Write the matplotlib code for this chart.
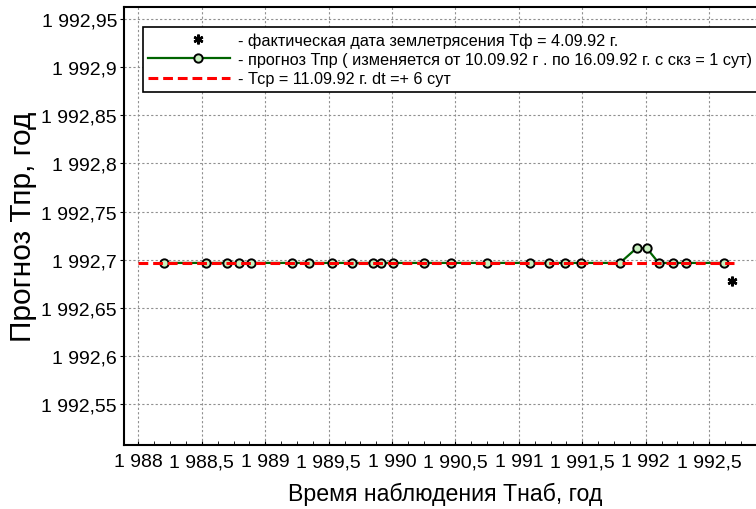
import numpy as np
import matplotlib
matplotlib.use('Agg')
from matplotlib import pyplot as plt
from matplotlib.ticker import MultipleLocator, FuncFormatter

plt.rcParams['font.family'] = ['Liberation Sans', 'DejaVu Sans']

# время наблюдения и прогноз
t_obs = [1988.203, 1988.530, 1988.696, 1988.793, 1988.887, 1989.213, 1989.342,
         1989.526, 1989.686, 1989.847, 1989.915, 1990.009, 1990.254, 1990.462,
         1990.751, 1991.088, 1991.240, 1991.366, 1991.487, 1991.797, 1991.929,
         1992.008, 1992.103, 1992.213, 1992.318, 1992.617]
t_pred = [1992.6966, 1992.6966, 1992.6966, 1992.6966, 1992.6966, 1992.6966, 1992.6966,
          1992.6966, 1992.6966, 1992.6966, 1992.6966, 1992.6966, 1992.6966, 1992.6966,
          1992.6966, 1992.6966, 1992.6966, 1992.6966, 1992.6966, 1992.6966, 1992.712,
          1992.712, 1992.6966, 1992.6966, 1992.6966, 1992.6966]
# среднее Тср
t_mean_x = [1988.0, 1992.70]
t_mean_y = [1992.6966, 1992.6966]
# фактическая дата
t_fact_x = [1992.678]
t_fact_y = [1992.678]

lbl_fact = '- фактическая дата землетрясения Тф = 4.09.92 г.'
lbl_pred = '- прогноз Тпр ( изменяется от 10.09.92 г . по 16.09.92 г. с скз = 1 сут)'
lbl_mean = '- Тср = 11.09.92 г. dt =+ 6 сут'


def fmt(v, pos):
    s = ('%.2f' % v).rstrip('0').rstrip('.')
    ip, _, dp = s.partition('.')
    ip = ip[:-3] + ' ' + ip[-3:]
    return ip + (',' + dp if dp else '')


fig = plt.figure(figsize=(7.56, 5.1), dpi=100)
ax_w = (1992.95 - 1987.886) * 126.8
ax = fig.add_axes([124 / 756, 64 / 510, ax_w / 756, 438 / 510])

st, = ax.plot(t_fact_x, t_fact_y, linestyle='none', marker=(6, 2, 0), markersize=7,
              markeredgewidth=1.8, color='black', label=lbl_fact)
gl, = ax.plot(t_obs, t_pred, color='#006400', linewidth=1.6, marker='o', markersize=6,
              markerfacecolor='#c8f0c0', markeredgecolor='black', markeredgewidth=1.4,
              label=lbl_pred, zorder=3)
rl, = ax.plot(t_mean_x, t_mean_y, color='red', linewidth=2.2, linestyle=(0, (3.2, 1.6)),
              label=lbl_mean, zorder=4)

ax.set_xlim(1987.886, 1992.95)
ax.set_ylim(1992.5075, 1992.9624)
ax.xaxis.set_major_locator(MultipleLocator(0.5))
ax.xaxis.set_minor_locator(MultipleLocator(0.125))
ax.yaxis.set_major_locator(MultipleLocator(0.05))
ax.xaxis.set_major_formatter(FuncFormatter(fmt))
ax.yaxis.set_major_formatter(FuncFormatter(fmt))
ax.tick_params(axis='both', labelsize=14)
ax.tick_params(axis='x', which='both', direction='in', length=3, pad=6)
ax.tick_params(axis='y', direction='out', length=3, pad=2)
ax.grid(True, color='#909090', linestyle=(0, (2, 2)), linewidth=0.8)
for s in ax.spines.values():
    s.set_linewidth(1.5)

ax.set_xlabel('Время наблюдения Тнаб, год', fontsize=16.7, labelpad=8)
ax.set_ylabel('Прогноз Тпр, год', fontsize=21.5, labelpad=3)

leg = ax.legend(handles=[st, gl, rl], loc='upper left',
                bbox_to_anchor=((143 - 124) / ax_w, (446 - 28) / 438),
                fontsize=11.7, handlelength=5.05, handletextpad=0.45, labelspacing=0.27,
                borderpad=0.32, borderaxespad=0, fancybox=False, framealpha=1,
                edgecolor='black')
leg.get_frame().set_linewidth(1.2)
# маркер в легенде чуть правее центра, как в оригинале
for h in leg.legend_handles:
    xd = h.get_xdata()
    if len(xd) == 3:
        h.set_xdata([xd[0], xd[0] + 0.61 * (xd[2] - xd[0]), xd[2]])

plt.savefig('out.png', dpi=100)
